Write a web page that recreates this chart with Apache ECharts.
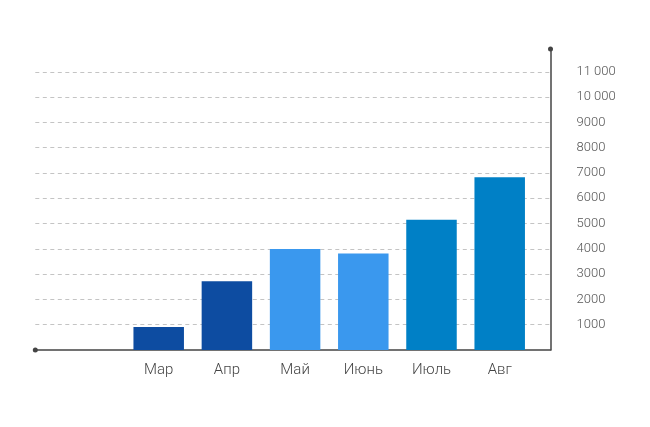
<!DOCTYPE html>
<html>
<head>
<meta charset="utf-8">
<script src="https://cdn.jsdelivr.net/npm/echarts@6/dist/echarts.min.js"></script>
<style>
html,body{margin:0;padding:0;background:#fff;}
#chart{width:650px;height:427px;}
</style>
</head>
<body>
<div id="chart"></div>
<script>
var categories = ['', 'Мар', 'Апр', 'Май', 'Июнь', 'Июль', 'Авг'];
var values = [null, 910, 2720, 3990, 3820, 5150, 6830];
var yTickValues = [1000, 2000, 3000, 4000, 5000, 6000, 7000, 8000, 9000, 10000, 11000];
var yTickLabels = ['1000', '2000', '3000', '4000', '5000', '6000', '7000', '8000', '9000', '10 000', '11 000'];
var barColors = ['#0d4ca1', '#0d4ca1', '#0d4ca1', '#3a98ee', '#3a98ee', '#0080c6', '#0080c6'];

var yMin = 0, yMax = 11900, yStep = 1000;
var fontFam = 'Roboto, "Open Sans", sans-serif';

var chart = echarts.init(document.getElementById('chart'), null, {renderer: 'canvas'});
chart.setOption({
  backgroundColor: '#fff',
  animation: false,
  grid: [
    {left: 56.4, right: 116.2, top: 49, bottom: 77, outerBoundsMode: 'none', containLabel: false},
    {left: 35.3, right: 99.5, top: 49, bottom: 77, outerBoundsMode: 'none', containLabel: false}
  ],
  xAxis: [
    {
      gridIndex: 0, type: 'category', data: categories,
      axisLine: {show: false}, axisTick: {show: false},
      axisLabel: {color: '#444', fontSize: 15, fontFamily: fontFam, fontWeight: 300, margin: 13},
      splitLine: {show: false}
    },
    {
      gridIndex: 1, type: 'value', min: 0, max: 1,
      axisLine: {show: true, onZero: false, symbol: ['circle', 'none'], symbolSize: [5, 5], lineStyle: {color: '#444', width: 1.5}},
      axisTick: {show: false}, axisLabel: {show: false}, splitLine: {show: false}
    }
  ],
  yAxis: [
    {
      gridIndex: 0, type: 'value', min: yMin, max: yMax, interval: yStep, show: false,
      splitLine: {show: false}
    },
    {
      gridIndex: 1, type: 'value', position: 'right', min: yMin, max: yMax, interval: yStep,
      axisLine: {show: true, onZero: false, symbol: ['none', 'circle'], symbolSize: [5, 5], lineStyle: {color: '#444', width: 1.5}},
      axisTick: {show: false},
      axisLabel: {
        show: true, color: '#555', fontSize: 13, fontFamily: fontFam, fontWeight: 300,
        margin: 26, align: 'left', showMaxLabel: false, showMinLabel: false,
        formatter: function (v) {
          var i = yTickValues.indexOf(v);
          return i >= 0 ? yTickLabels[i] : '';
        }
      },
      splitLine: {
        show: true, showMinLine: false, showMaxLine: false,
        lineStyle: {color: '#c4c4c4', type: [4, 3.5], width: 1}
      }
    }
  ],
  series: [
    {
      type: 'bar', xAxisIndex: 0, yAxisIndex: 0, barWidth: 50.5,
      data: values.map(function (v, i) {
        return {value: v, itemStyle: {color: barColors[i]}};
      })
    }
  ]
});
</script>
</body>
</html>
